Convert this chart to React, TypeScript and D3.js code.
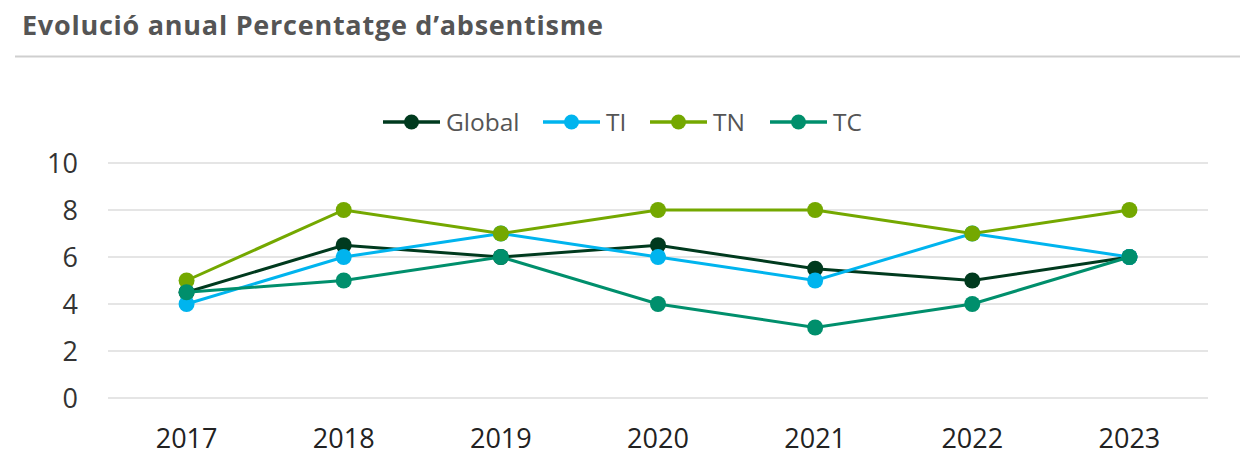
import React, { useRef, useEffect } from 'react';
import * as d3 from 'd3';

const years = ['2017', '2018', '2019', '2020', '2021', '2022', '2023'];
const globalValues = [4.5, 6.5, 6, 6.5, 5.5, 5, 6];
const tiValues = [4, 6, 7, 6, 5, 7, 6];
const tnValues = [5, 8, 7, 8, 8, 7, 8];
const tcValues = [4.5, 5, 6, 4, 3, 4, 6];
const seriesNames = ['Global', 'TI', 'TN', 'TC'];
const seriesColors = ['#003a1e', '#00b4ee', '#74a800', '#008f6c'];
const yTicks = [0, 2, 4, 6, 8, 10];

const App = () => {
    const svgRef = useRef<SVGSVGElement>(null);

    useEffect(() => {
        const svg = d3.select(svgRef.current);
        svg.selectAll('*').remove();

        const series = [globalValues, tiValues, tnValues, tcValues];

        // title + divider
        svg.append('text')
            .attr('x', 22)
            .attr('y', 35)
            .attr('font-family', 'Open Sans')
            .attr('font-weight', 700)
            .attr('font-size', 27)
            .attr('letter-spacing', 0.75)
            .attr('fill', '#555')
            .text('Evolució anual Percentatge d\u2019absentisme');
        svg.append('line')
            .attr('x1', 15).attr('x2', 1240)
            .attr('y1', 56.5).attr('y2', 56.5)
            .attr('stroke', '#cfcfcf')
            .attr('stroke-width', 2);

        const x = d3.scaleBand().domain(years).range([108, 1208]);
        const y = d3.scaleLinear().domain([0, 10]).range([398, 163]);
        const cx = (i: number) => (x(years[i]) as number) + x.bandwidth() / 2;

        // grid
        svg.append('g')
            .selectAll('line')
            .data(yTicks)
            .enter()
            .append('line')
            .attr('x1', 108).attr('x2', 1208)
            .attr('y1', d => y(d)).attr('y2', d => y(d))
            .attr('stroke', '#dcdcdc')
            .attr('stroke-width', 1.5);

        // y labels
        svg.append('g')
            .selectAll('text')
            .data(yTicks)
            .enter()
            .append('text')
            .attr('x', 78)
            .attr('y', d => y(d) + 9.5)
            .attr('text-anchor', 'end')
            .attr('font-family', 'Open Sans')
            .attr('font-size', 27)
            .attr('fill', '#333')
            .text(d => d);

        // x labels
        svg.append('g')
            .selectAll('text')
            .data(years)
            .enter()
            .append('text')
            .attr('x', (d, i) => cx(i))
            .attr('y', 448)
            .attr('text-anchor', 'middle')
            .attr('font-family', 'Open Sans')
            .attr('font-size', 27)
            .attr('fill', '#222')
            .text(d => d);

        const line = d3.line<number>()
            .x((d, i) => cx(i))
            .y(d => y(d));

        series.forEach((vals, s) => {
            const g = svg.append('g');
            g.append('path')
                .datum(vals)
                .attr('d', line)
                .attr('fill', 'none')
                .attr('stroke', seriesColors[s])
                .attr('stroke-width', 3);
            g.selectAll('circle')
                .data(vals)
                .enter()
                .append('circle')
                .attr('cx', (d, i) => cx(i))
                .attr('cy', d => y(d))
                .attr('r', 8)
                .attr('fill', seriesColors[s]);
        });

        // legend
        const legendX = [383, 543, 650, 770];
        seriesNames.forEach((name, s) => {
            const g = svg.append('g').attr('transform', `translate(${legendX[s]},122)`);
            g.append('line')
                .attr('x1', 0).attr('x2', 57)
                .attr('stroke', seriesColors[s])
                .attr('stroke-width', 3.5);
            g.append('circle')
                .attr('cx', 28.5)
                .attr('r', 7.5)
                .attr('fill', seriesColors[s]);
            g.append('text')
                .attr('x', 63)
                .attr('y', 8.5)
                .attr('font-family', 'Open Sans')
                .attr('font-size', 24.5)
                .attr('fill', '#555')
                .text(name);
        });
    }, []);

    return (
        <svg ref={svgRef} width={1240} height={461}
            style={{ position: 'absolute', left: 0, top: 0, background: '#fff' }} />
    );
};

export default App;
